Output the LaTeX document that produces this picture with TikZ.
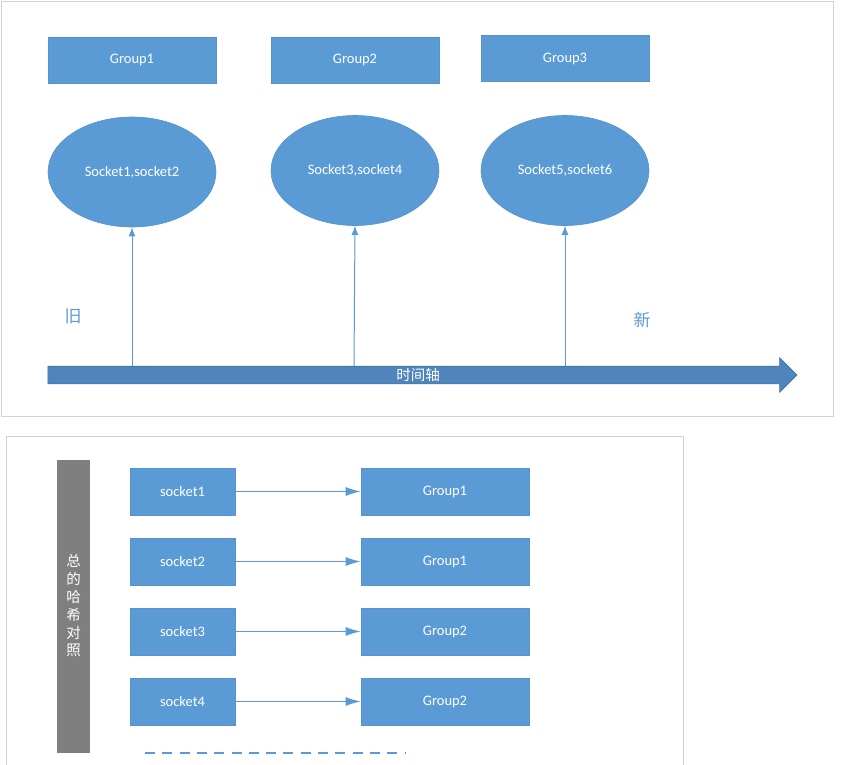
\documentclass[tikz,border=0pt]{standalone}
\usepackage{fontspec}
\setmainfont{Carlito}
\newfontfamily\cjk{Noto Sans CJK SC}
\usetikzlibrary{shapes.geometric,shapes.arrows,arrows.meta}
\definecolor{boxblue}{HTML}{5B9BD5}
\definecolor{boxedge}{HTML}{5592CF}
\definecolor{axisblue}{HTML}{4F84BC}
\definecolor{axisedge}{HTML}{41719C}
\definecolor{panelgrey}{HTML}{D2D2D2}
\definecolor{bargrey}{HTML}{7F7F7F}
\tikzset{
	blockbox/.style={draw=boxedge, fill=boxblue, line width=0.6pt, minimum width=168pt, minimum height=46pt, inner sep=0pt, text=white, font=\fontsize{14.5}{17}\selectfont},
	smallbox/.style={blockbox, minimum width=105pt, minimum height=47pt},
	sockell/.style={ellipse, draw=boxedge, fill=boxblue, line width=0.6pt, minimum width=168pt, minimum height=110pt, inner sep=0pt, text=white, font=\fontsize{14.5}{17}\selectfont},
	timeup/.style={draw=boxblue, line width=1pt, -{Latex[length=9pt,width=7pt]}},
	maparrow/.style={draw=boxblue, line width=1.2pt, -{Latex[length=15pt,width=9pt]}},
	cjklabel/.style={text=boxblue, font=\cjk\fontsize{17}{20}\selectfont, inner sep=0pt},
	panel/.style={draw=panelgrey, line width=1pt}
}

\begin{document}
\begin{tikzpicture}[x=1pt, y=-1pt]
		%%%%% START %%%%%
		\useasboundingbox (0,0) rectangle (865,765);
		\fill[white] (0,0) rectangle (865,765);
		
		\draw[panel] (1.5,2) rectangle (833,416);
		\draw[panel] (6,770) -- (6,436) -- (683,436) -- (683,770);
		
		\node[blockbox] (g1) at (132,60) {Group1};
		\node[blockbox] (g2) at (355,60) {Group2};
		\node[blockbox] (g3) at (565,58.5) {Group3};
		
		\node[sockell] (e1) at (132,172) {Socket1,socket2};
		\node[sockell] (e2) at (355,170.5) {Socket3,socket4};
		\node[sockell] (e3) at (565,170.5) {Socket5,socket6};
		
		\node[single arrow, draw=axisedge, fill=axisblue, line width=0.6pt, minimum height=749pt, single arrow head extend=8.5pt, single arrow head indent=0pt, shape border rotate=0, inner xsep=0pt, inner ysep=0pt, text height=13.5pt, text depth=3.5pt, text=white, font=\cjk\fontsize{14.5}{17}\selectfont] (axis) at (418,375) {时间轴};
		
		\coordinate (t1) at (132,366);
		\coordinate (t2) at (354,366);
		\coordinate (t3) at (565,366);
		\draw[timeup] (t1) -- (e1.south);
		\draw[timeup] (t2) -- (e2.south);
		\draw[timeup] (t3) -- (e3.south);
		
		\node[cjklabel] (old) at (73,316) {旧};
		\node[cjklabel] (new) at (642,320) {新};
		
		\node[fill=bargrey, minimum width=33pt, minimum height=293pt, inner sep=0pt, text=white, align=center, font=\cjk\fontsize{14.5}{17.8}\selectfont] (bar) at (73.5,606) {总\\的\\哈\\希\\对\\照};
		
		\foreach \i/\g in {1/1,2/1,3/2,4/2}{
			\node[smallbox] (s\i) at (182.5,421.5+70*\i) {socket\i};
			\node[blockbox, minimum height=47pt] (h\i) at (445,421.5+70*\i) {Group\g};
			\draw[maparrow] (s\i) -- (h\i);
		}
		
		\coordinate (dotsA) at (145,753);
		\coordinate (dotsB) at (405,753);
		\draw[boxblue, line width=1.2pt, dash pattern=on 10pt off 7.3pt] (dotsA) -- (dotsB);
		
		%%%%% END %%%%%
\end{tikzpicture}
\end{document}
